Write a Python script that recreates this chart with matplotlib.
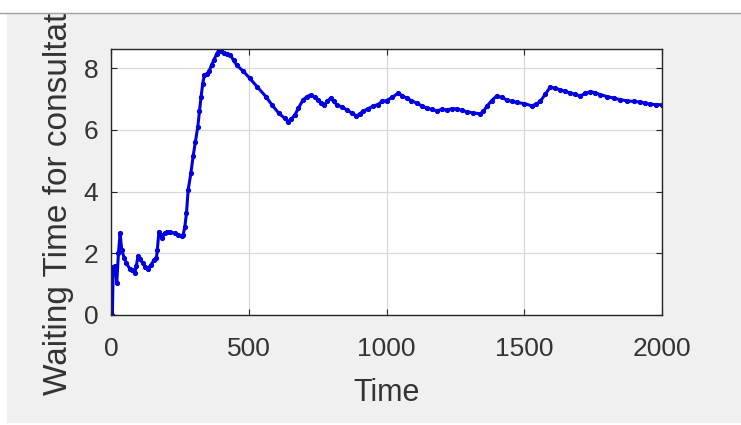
import matplotlib
matplotlib.use("Agg")
import matplotlib.pyplot as plt
from matplotlib.patches import Rectangle
from matplotlib.lines import Line2D

plt.rcParams['font.family'] = ['Liberation Sans', 'DejaVu Sans']

# simulated waiting time vs. time
time = [0, 5, 8, 15, 21, 27, 33, 39, 48, 56, 68, 78, 86, 92, 98, 106, 115, 125, 133, 145,
        156, 165, 168, 174, 180, 186, 195, 203, 215, 233, 245, 256, 262, 268, 274, 280, 290,
        298, 306, 315, 321, 327, 333, 339, 347, 356, 365, 374, 383, 392, 400, 409, 420, 433,
        445, 456, 480, 503, 530, 562, 585, 609, 630, 644, 655, 668, 680, 697, 712, 727, 740,
        750, 762, 774, 785, 797, 808, 821, 838, 856, 873, 891, 903, 915, 932, 950, 968, 985,
        1000, 1020, 1043, 1058, 1073, 1090, 1110, 1128, 1146, 1164, 1182, 1200, 1219, 1237,
        1255, 1273, 1291, 1315, 1340, 1352, 1364, 1382, 1400, 1418, 1437, 1455, 1473, 1500,
        1527, 1543, 1558, 1576, 1594, 1612, 1630, 1648, 1667, 1685, 1703, 1722, 1740, 1758,
        1776, 1800, 1824, 1848, 1873, 1897, 1921, 1940, 1958, 1980, 2000]
wait = [0, 0, 1.55, 1.6, 1.05, 2.0, 2.65, 2.1, 1.85, 1.68, 1.5, 1.45, 1.35, 1.6, 1.9, 1.8,
        1.68, 1.55, 1.5, 1.62, 1.78, 1.85, 2.1, 2.7, 2.6, 2.5, 2.65, 2.7, 2.68, 2.65, 2.6, 2.55,
        2.6, 2.86, 3.3, 4.05, 4.6, 5.14, 5.6, 6.1, 6.6, 7.08, 7.5, 7.78, 7.8, 7.9, 8.1, 8.27,
        8.45, 8.6, 8.55, 8.49, 8.47, 8.43, 8.25, 8.1, 7.9, 7.68, 7.4, 7.08, 6.8, 6.54, 6.38,
        6.27, 6.35, 6.49, 6.7, 6.97, 7.08, 7.14, 7.05, 6.97, 6.88, 6.81, 6.92, 7.03, 6.92, 6.81,
        6.74, 6.65, 6.55, 6.45, 6.52, 6.6, 6.68, 6.76, 6.82, 6.92, 6.95, 7.05, 7.19, 7.1, 7.03,
        6.95, 6.86, 6.78, 6.7, 6.66, 6.62, 6.66, 6.65, 6.68, 6.68, 6.63, 6.59, 6.55, 6.52, 6.6,
        6.76, 6.95, 7.1, 7.05, 6.97, 6.92, 6.89, 6.85, 6.78, 6.83, 6.92, 7.15, 7.38, 7.35, 7.3,
        7.25, 7.19, 7.15, 7.1, 7.18, 7.24, 7.2, 7.14, 7.08, 7.03, 6.98, 6.94, 6.92, 6.9, 6.86,
        6.83, 6.82, 6.81]

xticks = [0, 500, 1000, 1500, 2000]
yticks = [0, 2, 4, 6, 8]

W, H = 741, 425
fig = plt.figure(figsize=(W / 100, H / 100), dpi=100, facecolor='white')
# grey window panel
fig.patches.append(Rectangle((7 / W, 2 / H), 1, (H - 16) / H, transform=fig.transFigure,
                             facecolor='#f0f0f0', edgecolor='none', zorder=-1))

ax = fig.add_axes([111 / W, (H - 315) / H, (662 - 111) / W, (315 - 49) / H])
ax.plot(time, wait, '.-', color='#0000e0', lw=2.2, ms=5.5)
ax.set_xlim(0, 2000)
ax.set_ylim(0, max(wait) + 0.02)
ax.set_xticks(xticks)
ax.set_yticks(yticks)
ax.grid(True, color='#d8d8d8', lw=0.9)
ax.set_axisbelow(True)
ax.tick_params(direction='in', length=4, width=0.8, top=True, right=True,
               labelsize=19, colors='#262626', labelcolor='#333333')
ax.tick_params(axis='x', pad=16)
ax.tick_params(axis='y', pad=9)
for s in ax.spines.values():
    s.set_color('#262626')
    s.set_linewidth(1.0)
ax.set_xlabel('Time', fontsize=22, color='#333333', labelpad=12)
ax.set_ylabel('Waiting Time for consultation', fontsize=24, color='#333333', labelpad=7)

# white strip across the top with its divider line
fig.patches.append(Rectangle((0, (H - 13) / H), 1, 13 / H, transform=fig.transFigure,
                             facecolor='white', edgecolor='none', zorder=10))
fig.lines.append(Line2D([0, 1], [(H - 13) / H] * 2, transform=fig.transFigure,
                        color='#a0a0a0', lw=1.0, zorder=11))

fig.savefig('out.png', dpi=100, facecolor=fig.get_facecolor())
